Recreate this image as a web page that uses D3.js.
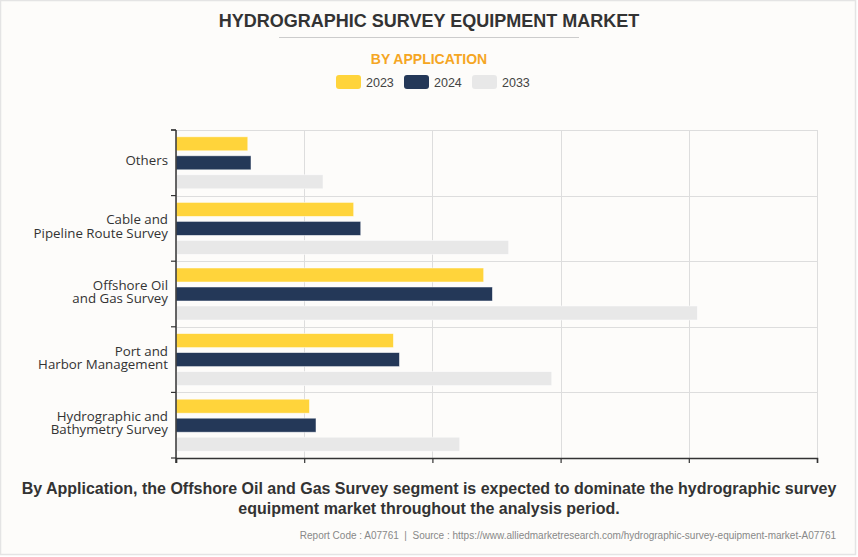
<!DOCTYPE html>
<html>
<head>
<meta charset="utf-8">
<script src="https://cdn.jsdelivr.net/npm/d3@7"></script>
<style>
  html, body { margin: 0; padding: 0; background: #ffffff; }
  svg { display: block; }
</style>
</head>
<body>
<svg id="chart" width="858" height="557"></svg>
<script>
// ---- Data ----
const categories = [
  "Others",
  "Cable and\nPipeline Route Survey",
  "Offshore Oil\nand Gas Survey",
  "Port and\nHarbor Management",
  "Hydrographic and\nBathymetry Survey"
];
const seriesNames = ["2023", "2024", "2033"];
const values2023 = [0.56, 1.386, 2.40, 1.696, 1.041];
const values2024 = [0.585, 1.441, 2.468, 1.743, 1.092];
const values2033 = [1.147, 2.595, 4.067, 2.931, 2.213];
const xTicks = [0, 1, 2, 3, 4, 5];
const colors = ["#ffd43b", "#243858", "#e8e8e8"];

const titleText = "HYDROGRAPHIC SURVEY EQUIPMENT MARKET";
const subtitleText = "BY APPLICATION";
const captionLines = [
  "By Application, the Offshore Oil and Gas Survey segment is expected to dominate the hydrographic survey",
  "equipment market throughout the analysis period."
];
const sourceText = "Report Code : A07761  |  Source : https://www.alliedmarketresearch.com/hydrographic-survey-equipment-market-A07761";

// ---- Layout ----
const W = 858, H = 557;
const svg = d3.select("#chart");
const plot = { left: 176, right: 817, top: 130, bottom: 458 };

// background + frame
svg.append("rect").attr("x", 0.5).attr("y", 0.5).attr("width", W - 3).attr("height", H - 3)
  .attr("fill", "#fdfcfa").attr("stroke", "#e4e4e4").attr("stroke-width", 1.5);

// title
svg.append("text").attr("x", 429).attr("y", 27)
  .attr("text-anchor", "middle")
  .attr("font-family", "Liberation Sans, Arial, sans-serif")
  .attr("font-weight", "bold").attr("font-size", 18)
  .attr("fill", "#333333").text(titleText);
svg.append("line").attr("x1", 279).attr("x2", 579).attr("y1", 37.5).attr("y2", 37.5)
  .attr("stroke", "#cccccc").attr("stroke-width", 1);
svg.append("text").attr("x", 429).attr("y", 64)
  .attr("text-anchor", "middle")
  .attr("font-family", "Liberation Sans, Arial, sans-serif")
  .attr("font-weight", "bold").attr("font-size", 14)
  .attr("fill", "#f5a623").text(subtitleText);

// legend
const legendX = [336, 404, 472];
const legend = svg.append("g");
seriesNames.forEach((s, i) => {
  legend.append("rect").attr("x", legendX[i]).attr("y", 75).attr("width", 25).attr("height", 14)
    .attr("rx", 3).attr("fill", colors[i]);
  legend.append("text").attr("x", legendX[i] + 30).attr("y", 86.5)
    .attr("font-family", "Liberation Sans, Arial, sans-serif")
    .attr("font-size", 12.5).attr("fill", "#444444").text(s);
});

// scales
const x = d3.scaleLinear().domain([0, 5]).range([plot.left, plot.right]);
const y = d3.scaleBand().domain(categories).range([plot.top, plot.bottom]).padding(0);
const bandPad = 6.8;
const ySub = d3.scaleBand().domain(seriesNames)
  .range([bandPad, y.bandwidth() - bandPad]).paddingInner(0.263).paddingOuter(0);

// grid
const grid = svg.append("g");
grid.selectAll("line.v").data(xTicks).join("line")
  .attr("x1", d => Math.round(x(d)) + 0.5).attr("x2", d => Math.round(x(d)) + 0.5)
  .attr("y1", plot.top).attr("y2", plot.bottom)
  .attr("stroke", "#dddddd").attr("stroke-width", 1);
const hLines = categories.map(c => y(c)).concat([plot.bottom]);
grid.selectAll("line.h").data(hLines).join("line")
  .attr("x1", plot.left).attr("x2", plot.right)
  .attr("y1", d => Math.round(d) + 0.5).attr("y2", d => Math.round(d) + 0.5)
  .attr("stroke", "#dddddd").attr("stroke-width", 1);

// bars
const seriesValues = [values2023, values2024, values2033];
const groups = svg.append("g").selectAll("g").data(categories).join("g")
  .attr("transform", c => `translate(0,${y(c)})`);
groups.selectAll("rect").data((c, ci) => seriesNames.map((s, si) => ({ s, si, v: seriesValues[si][ci] })))
  .join("rect")
  .attr("x", x(0))
  .attr("y", d => ySub(d.s))
  .attr("width", d => x(d.v) - x(0))
  .attr("height", ySub.bandwidth())
  .attr("fill", d => colors[d.si])
  .attr("stroke", "#ffffff").attr("stroke-opacity", 0.6).attr("stroke-width", 0.8);

// x axis
const xAxis = svg.append("g").attr("transform", `translate(0,${plot.bottom})`)
  .call(d3.axisBottom(x).tickValues(xTicks).tickSize(5).tickFormat(""));
xAxis.select(".domain").attr("stroke", "#333333").attr("stroke-width", 1.5);
xAxis.selectAll(".tick line").attr("stroke", "#333333").attr("stroke-width", 1.2);

// y axis with boundary ticks
const yAxisG = svg.append("g");
yAxisG.append("line").attr("x1", plot.left).attr("x2", plot.left)
  .attr("y1", plot.top).attr("y2", plot.bottom + 5)
  .attr("stroke", "#333333").attr("stroke-width", 1.5);
yAxisG.selectAll("line.t").data(hLines.concat([plot.top])).join("line")
  .attr("x1", plot.left - 5).attr("x2", plot.left)
  .attr("y1", d => d).attr("y2", d => d)
  .attr("stroke", "#333333").attr("stroke-width", 1.2);

// category labels
const labels = svg.append("g").selectAll("text").data(categories).join("text")
  .attr("text-anchor", "end")
  .attr("font-family", "Open Sans, sans-serif")
  .attr("font-size", 13.3)
  .attr("fill", "#333333")
  .attr("transform", c => `translate(168,${y(c) + y.bandwidth() / 2 - 2})`);
labels.each(function (c) {
  const lines = c.split("\n");
  const t = d3.select(this);
  const lh = 13.2;
  const start = -(lines.length - 1) * lh / 2;
  lines.forEach((l, i) => {
    t.append("tspan").attr("x", 0).attr("y", start + i * lh).attr("dy", "0.35em").text(l);
  });
});

// caption
svg.append("g").selectAll("text").data(captionLines).join("text")
  .attr("x", 429).attr("y", (d, i) => 494 + i * 20)
  .attr("text-anchor", "middle")
  .attr("font-family", "Liberation Sans, Arial, sans-serif")
  .attr("font-weight", "bold").attr("font-size", 16)
  .attr("fill", "#333333").text(d => d);

svg.append("text").attr("x", 836).attr("y", 538.5)
  .attr("text-anchor", "end")
  .attr("font-family", "Liberation Sans, Arial, sans-serif")
  .attr("font-size", 10).attr("fill", "#888888")
  .attr("xml:space", "preserve").style("white-space", "pre")
  .text(sourceText);
</script>
</body>
</html>
